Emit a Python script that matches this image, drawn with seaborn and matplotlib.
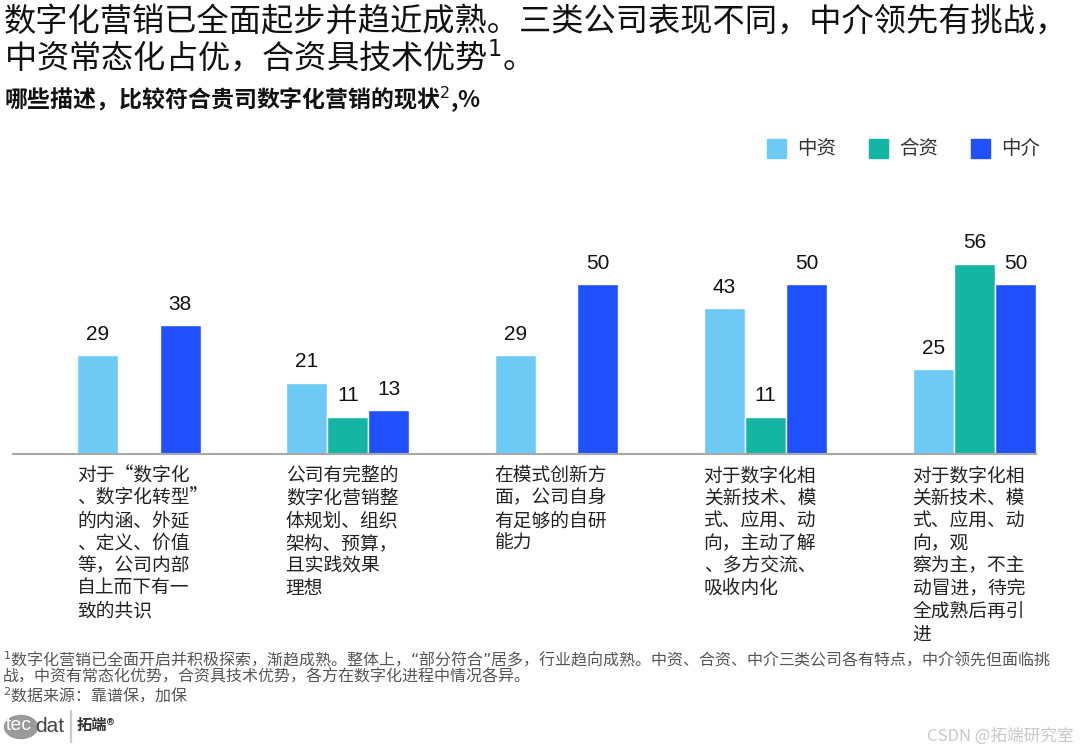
import numpy as np
import pandas as pd
import matplotlib
matplotlib.use('Agg')
import matplotlib.pyplot as plt
import matplotlib.transforms as mtransforms
from matplotlib.patches import Circle
import seaborn as sns

sns.set_theme(style='white')
plt.rcParams['font.family'] = ['Noto Sans CJK SC', 'DejaVu Sans']

# Datos del gráfico
categorias = ['对于“数字化\n、数字化转型”\n的内涵、外延\n、定义、价值\n等，公司内部\n自上而下有一\n致的共识',
              '公司有完整的\n数字化营销整\n体规划、组织\n架构、预算，\n且实践效果\n理想',
              '在模式创新方\n面，公司自身\n有足够的自研\n能力',
              '对于数字化相\n关新技术、模\n式、应用、动\n向，主动了解\n、多方交流、\n吸收内化',
              '对于数字化相\n关新技术、模\n式、应用、动\n向，观\n察为主，不主\n动冒进，待完\n全成熟后再引\n进']
empresas = ['中资', '合资', '中介']
zhongzi = [29, 21, 29, 43, 25]
hezi = [np.nan, 11, np.nan, 11, 56]
zhongjie = [38, 13, 50, 50, 50]
colores = ['#6DCAF5', '#14B5A3', '#2150FF']

df = pd.DataFrame({
    'cat': list(range(5)) * 3,
    'empresa': [e for e in empresas for _ in range(5)],
    'valor': zhongzi + hezi + zhongjie,
})

fig = plt.figure(figsize=(10.8, 7.53), dpi=100)
ax = fig.add_axes([13 / 1080, 1 - 454 / 753, (1036 - 13) / 1080, 204 / 753])

sns.barplot(data=df, x='cat', y='valor', hue='empresa', hue_order=empresas,
            palette=colores, width=0.59, gap=0, ax=ax, legend=False,
            errorbar=None, saturation=1)

for cont in ax.containers:
    etiquetas = [f'{v:.0f}' if np.isfinite(v) else '' for v in cont.datavalues]
    ax.bar_label(cont, labels=etiquetas, padding=8, fontsize=15,
                 family=['Liberation Sans', 'DejaVu Sans'], color='#111111')

ax.set_xlim(-0.603, 4.294)
ax.set_ylim(0, 60)
ax.set_xticks([])
ax.set_yticks([])
ax.set_xlabel('')
ax.set_ylabel('')
for s in ['top', 'right', 'left']:
    ax.spines[s].set_visible(False)
ax.spines['bottom'].set_color('#A8A8A8')
ax.spines['bottom'].set_linewidth(1.5)

# Etiquetas de categoría alineadas a la izquierda de cada grupo
trans = mtransforms.blended_transform_factory(ax.transData, fig.transFigure)
for i, txt in enumerate(categorias):
    ax.text(i - 0.297, 1 - 465 / 753, txt, transform=trans, ha='left', va='top',
            fontsize=13.5, color='#222222', linespacing=1.1)

# Leyenda
for i, (nom, col) in enumerate(zip(empresas, colores)):
    x0 = 767 + i * 102
    fig.patches.append(plt.Rectangle((x0 / 1080, 1 - 158 / 753), 19 / 1080, 19 / 753,
                                     transform=fig.transFigure, color=col))
    fig.text((x0 + 30) / 1080, 1 - 148 / 753, nom, fontsize=14, va='center', color='#333333')

# Títulos
fig.text(4 / 1080, 1 - 7 / 753, '数字化营销已全面起步并趋近成熟。三类公司表现不同，中介领先有挑战，\n中资常态化占优，合资具技术优势$^{1}$。',
         fontsize=23.2, va='top', ha='left', color='#111111', linespacing=0.98,
         fontweight='medium')
fig.text(4 / 1080, 1 - 100 / 753, '哪些描述，比较符合贵司数字化营销的现状$^{2}$,%',
         fontsize=16.5, va='center', ha='left', fontweight='bold', color='#111111')

# Notas
fig.text(3 / 1080, 1 - 649 / 753,
         '$^{1}$数字化营销已全面开启并积极探索，渐趋成熟。整体上，“部分符合”居多，行业趋向成熟。中资、合资、中介三类公司各有特点，中介领先但面临挑\n战，中资有常态化优势，合资具技术优势，各方在数字化进程中情况各异。',
         fontsize=11.5, va='top', ha='left', color='#555555', linespacing=0.95)
fig.text(3 / 1080, 1 - 696 / 753, '$^{2}$数据来源：靠谱保，加保', fontsize=11.5,
         va='center', ha='left', color='#555555')

# Logo
fig.patches.append(Circle((21 / 1080, 1 - 727 / 753), 16.5 / 1080, transform=fig.transFigure,
                          color='#9A9A9A'))
fig.text(6 / 1080, 1 - 726 / 753, 'tec', fontsize=14, va='center', ha='left',
         color='white', family=['Liberation Sans', 'DejaVu Sans'])
fig.text(35 / 1080, 1 - 726 / 753, 'dat', fontsize=15, va='center', ha='left',
         color='#444444', family=['Liberation Sans', 'DejaVu Sans'])
fig.patches.append(plt.Rectangle((70 / 1080, 1 - 742 / 753), 1 / 1080, 32 / 753,
                                 transform=fig.transFigure, color='#CCCCCC'))
fig.text(77 / 1080, 1 - 725 / 753, '拓端®', fontsize=11, va='center', ha='left',
         color='#333333', fontweight='bold')
fig.text(1074 / 1080, 1 - 736 / 753, 'CSDN @拓端研究室', fontsize=12, va='center', ha='right',
         color='#C8C8C8')

plt.savefig('out.png', dpi=100)
